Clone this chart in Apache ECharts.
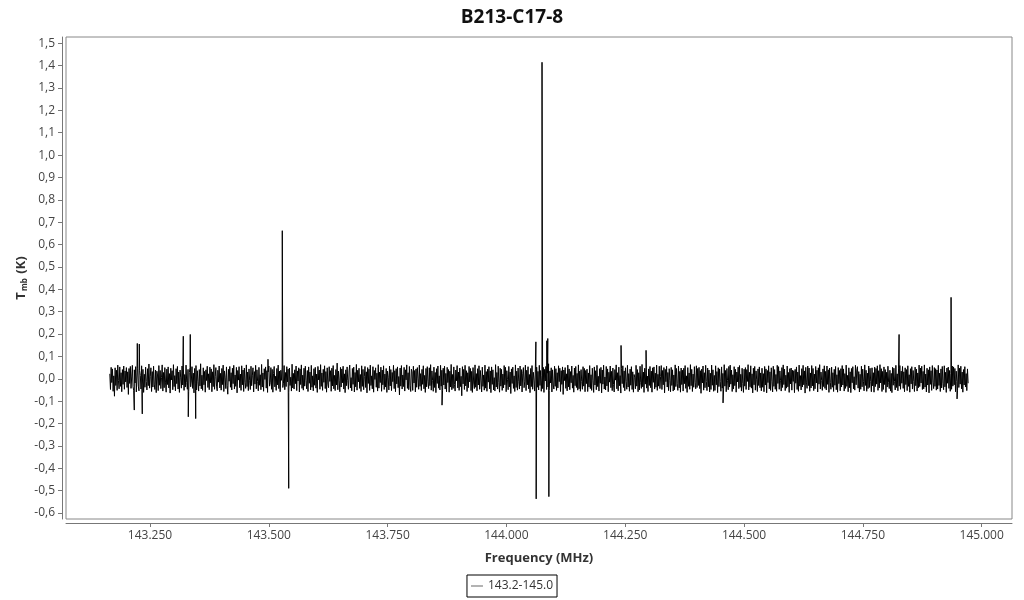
<!DOCTYPE html>
<html><head><meta charset="utf-8">
<script src="https://cdn.jsdelivr.net/npm/echarts@6/dist/echarts.min.js"></script>
<style>html,body{margin:0;padding:0;background:#fff}#chart{width:1024px;height:600px}</style>
</head><body><div id="chart"></div>
<script>
const chartTitle = 'B213-C17-8';
const seriesName = '143.2-145.0';
const xAxisName = 'Frequency (MHz)';
const freqStartMHz = 143.1655;
const freqEndMHz = 144.9715;
// baseline channel values in mK
const baselineMilliK = [
22,-48,51,-17,44,-56,13,-78,49,-30,38,-52,61,-9,-45,53,-34,27,-58,41,-25,57,-47,35,
-14,50,-39,31,-70,46,-21,55,-43,8,60,-36,-51,40,-19,54,-59,26,47,-33,-54,37,15,-46,
58,-28,42,-61,20,-38,52,-12,-50,45,-31,66,-42,11,49,-57,32,-37,56,-24,-48,39,-62,34,
17,-53,59,-29,37,-44,6,62,-55,28,-40,50,-15,-60,43,-26,53,-41,23,-64,47,-5,36,-49,
63,-35,14,-54,45,-22,55,-46,30,-61,39,4,-42,57,-28,48,-52,19,-37,61,-16,-47,42,-57,
29,51,-36,-10,54,-43,25,-63,46,-23,59,-50,36,-13,-55,41,-32,67,-45,16,-52,49,-27,33,
-60,40,-8,56,-39,22,-49,52,-18,44,-58,31,-35,63,-47,9,50,-33,-54,38,-15,57,-41,24,
-51,46,-26,61,-57,35,4,-44,53,-30,-69,42,-11,55,-38,27,-50,47,-22,60,-46,17,-34,51,
-63,37,-6,54,-40,21,-52,58,-27,39,-57,48,-17,-43,62,-35,30,-53,44,-9,-48,56,-31,13,
49,-59,32,-24,60,-45,40,-12,-54,51,-29,18,-49,64,-37,26,-56,45,-3,53,-42,36,-61,31,
57,-33,-18,50,-47,42,-60,23,55,-36,11,-52,46,-27,61,-44,34,-58,38,-7,52,-39,-20,59,
-49,28,-35,54,-14,43,-62,48,-30,7,-55,65,-41,24,-46,40,-22,57,-53,35,-10,49,-59,44,
-26,62,-43,16,-51,47,-33,56,-8,-45,37,-57,53,-20,30,-50,60,-38,13,-54,45,-29,51,-42,
21,-61,55,-5,39,-47,63,-34,26,-52,42,-16,58,-44,32,-60,49,-24,-40,54,-12,36,-56,47,
-32,59,-45,15,-53,41,-28,70,-49,34,-7,-58,51,-37,44,-18,56,-46,22,-62,40,-31,53,-9,
-47,35,61,-41,5,-54,46,-25,52,-59,28,-36,64,-51,38,-14,47,-43,19,-57,58,-34,42,-49,
9,55,-39,31,-63,50,-21,43,-52,61,-30,13,-45,54,-60,37,-3,49,-38,25,-55,63,-42,30,
-17,52,-56,39,-27,58,-48,21,-37,46,-61,34,7,-50,57,-32,41,-53,28,-13,60,-44,36,-58,
45,-23,53,-40,10,-72,48,-33,59,-46,17,-35,51,-55,40,-5,62,-43,27,-49,55,-29,-57,43,
31,-52,56,-19,37,-59,44,-38,50,3,-47,61,-34,23,-53,42,-25,58,-45,15,-61,46,-36,54,
-11,-44,49,-31,63,-51,35,-7,-56,52,-39,28,-62,45,-21,57,-42,13,-50,60,-33,38,-54,47,
-28,56,-46,24,-58,51,-17,41,-60,34,-37,64,-49,19,-43,53,-26,-55,39,-9,59,-41,30,-52,
48,-35,11,-76,54,-23,42,-48,60,-32,36,-57,27,-40,55,-14,46,-53,33,-61,50,-19,-44,62,
-38,23,-54,45,-28,58,-47,37,-6,-59,52,-34,17,-51,61,-42,32,-56,43,-15,54,-45,35,-62,
53,-25,40,-50,5,-55,63,-37,28,-46,56,-17,-60,47,-33,42,-52,21,-41,59,-27,51,-58,36,
-4,-49,55,-36,30,-66,44,-21,52,-43,13,-57,62,-39,34,-51,48,-11,-46,57,-32,41,-59,25,
50,-40,-14,61,-53,38,-27,54,-45,19,-62,46,-35,59,-47,29,-6,-55,43,-23,52,-38,33,-50,
60,-30,37,-56,16,-44,51,-61,42,-10,55,-48,25,-37,67,-53,35,-19,49,-59,40,-28,-46,56,
-34,45,-52,27,-41,58,-13,47,-57,36,-25,53,-70,39,-8,50,-43,22,-54,61,-36,44,-49,32,
-18,57,-42,15,-60,48,-31,55,-39,24,-51,62,-45,34,-56,41,-12,-47,54,-33,46,-58,37,-22,
43,-57,26,-37,59,-44,18,-52,47,-9,-61,53,-28,36,-49,60,-35,11,-55,45,-20,51,-63,39,
-24,61,-46,8,-50,55,-32,44,-58,29,-15,57,-40,33,-53,48,-26,-59,41,-6,62,-45,27,-54,
52,-31,14,-64,46,-22,58,-39,35,-54,49,-12,-47,60,-37,23,-56,43,-29,54,-48,31,-60,19,
7,-45,60,-33,41,-58,27,-50,56,-18,-43,64,-36,30,-61,47,-24,52,-42,12,-57,44,-30,55,
-40,34,-60,49,-16,53,-46,25,-38,61,-52,20,-33,56,-44,10,59,-48,37,-27,50,-63,42,-13,
56,-37,28,-53,45,-8,-58,51,-30,40,-55,17,-49,62,-35,46,-21,-52,57,-41,33,-60,48,-26,
38,-55,47,-22,59,-43,13,-61,50,-34,26,-47,63,-31,42,-57,21,-38,54,-16,-45,58,-39,46,
-30,51,-44,36,-65,43,-19,57,-51,27,-40,60,-12,-53,48,-36,39,-59,25,-48,61,-29,40,-56,
15,-52,58,-27,32,-62,49,-35,44,-13,-56,53,-42,24,-50,63,-33,37,-58,46,-8,-49,55,-37,
61,-24,39,-57,18,-46,54,-31,42,-60,30,-14,52,-44,59,-38,20,-55,47,-21,-61,43,-33,50,
-48,41,-12,63,-50,29,-36,58,-42,22,-63,47,-27,55,-51,35,-5,-57,44,-30,53,-40,26,-54,
47,-38,23,-58,55,-28,44,-63,37,-17,58,-45,31,-52,49,-11,-59,56,-34,41,-47,19,-56,60,
-21,54,-47,35,-9,-55,50,-39,62,-26,43,-53,16,-42,57,-36,28,-61,45,-23,48,-51,38,-12,
36,-62,42,-20,53,-48,30,-56,61,-33,14,-50,45,-37,60,-27,35,-64,51,-15,-43,57,-31,48,
-56,26,-41,59,-32,46,-53,21,-45,55,-19,38,-59,49,-24,63,-46,30,-8,-52,44,-35,58,-43,
33,-50,57,-25,40,-61,48,-16,-47,52,-38,27,-57,42,-29,55,-49,18,-60,50,-22,37,-54,45,
-37,59,-28,44,-55,23,-43,61,-34,15,-58,49,-40,31,-62,46,-18,54,-45,9,-51,60,-27,39,
54,-42,32,-59,20,-47,56,-36,43,-11,-54,62,-30,38,-56,25,-44,57,-39,47,-13,-58,49,-32,
27,-60,52,-35,46,-24,58,-52,36,-41,63,-19,45,-57,33,-48,53,-26,41,-61,29,-37,56,-16,
-44,38,-55,24,-62,51,-29,47,-13,-50,60,-39,22,-54,44,-33,59,-47,34,-20,55,-43,31,-58,
49,-26,41,-53,58,-34,18,-60,45,-23,54,-46,37,-12,-57,52,-31,43,-55,26,-40,61,-35,48,
-19,56,-48,33,-45,62,-37,21,-59,47,-28,40,-63,53,-25,36,-52,59,-16,-44,50,-34,45,-51,
39,-46,60,-30,25,-57,44,-41,55,-22,-49,58,-36,29,-61,48,-20,52,-43,37,-56,24,-47,57,
-33,53,-27,46,-58,34,-12,-51,62,-39,47,-24,56,-45,30,-60,41,-28,54,-37,23,-53,44,-20
];
// line features: [frequency MHz, T_mb K]
const lineFeatures = [
[143.2170,-0.140],[143.2233,0.158],[143.2275,0.155],[143.2338,-0.157],
[143.3201,0.190],[143.3306,-0.170],[143.3348,0.198],[143.3462,-0.178],
[143.4983,0.087],[143.5284,0.662],[143.5419,-0.490],[143.8645,-0.118],
[144.0620,0.165],[144.0626,-0.537],[144.0749,1.415],[144.0850,0.170],
[144.0870,0.180],[144.0893,-0.527],[144.2412,0.149],[144.2938,0.127],
[144.4558,-0.108],[144.8262,0.198],[144.9356,0.364],[144.9482,-0.090]
];
const xTickValues = [143.25,143.5,143.75,144.0,144.25,144.5,144.75,145.0];
const yTickValues = [-0.6,-0.5,-0.4,-0.3,-0.2,-0.1,0,0.1,0.2,0.3,0.4,0.5,0.6,0.7,0.8,0.9,1.0,1.1,1.2,1.3,1.4,1.5];

const n = baselineMilliK.length;
const step = (freqEndMHz - freqStartMHz) / (n - 1);
const points = baselineMilliK.map((v, i) => [freqStartMHz + i * step, v / 1000]);
lineFeatures.forEach(p => points.push(p));
points.sort((a, b) => a[0] - b[0]);

const font = "'Open Sans', 'Noto Sans', sans-serif";
const chart = echarts.init(document.getElementById('chart'), null, {renderer: 'canvas'});
chart.setOption({
  animation: false,
  backgroundColor: '#fff',
  textStyle: {fontFamily: font},
  title: {
    text: chartTitle, left: 'center', top: 3,
    textStyle: {fontSize: 19, fontWeight: 'bold', color: '#111', fontFamily: font}
  },
  legend: {
    top: 575, left: 'center',
    data: [{name: seriesName, icon: 'rect'}],
    itemWidth: 12, itemHeight: 1, itemGap: 4,
    borderColor: '#000', borderWidth: 1, padding: [5, 4],
    textStyle: {fontSize: 12, color: '#333', fontFamily: font},
    itemStyle: {color: '#666'}
  },
  grid: {
    left: 66, right: 12, top: 37, bottom: 81,
    show: true, borderColor: '#888', borderWidth: 1
  },
  xAxis: {
    type: 'value', min: 143.0733, max: 145.0638, offset: 4,
    name: xAxisName, nameLocation: 'middle', nameGap: 29, nameMoveOverlap: false,
    nameTextStyle: {fontSize: 13, fontWeight: 'bold', color: '#333', fontFamily: font},
    axisLine: {show: true, onZero: false, lineStyle: {color: '#777', width: 1}},
    axisTick: {show: true, length: 4, lineStyle: {color: '#777'}, customValues: xTickValues},
    axisLabel: {color: '#444', fontSize: 12, margin: 7, fontFamily: font,
      customValues: xTickValues, formatter: v => v.toFixed(3)},
    splitLine: {show: false}
  },
  yAxis: {
    type: 'value', min: -0.627, max: 1.528, offset: 4,
    name: '{a|T}{b|mb}{a| (K)}', nameLocation: 'middle', nameGap: 32, nameMoveOverlap: false,
    nameTextStyle: {
      rich: {
        a: {fontSize: 13, fontWeight: 'bold', color: '#333', fontFamily: font, lineHeight: 18},
        b: {fontSize: 8, fontWeight: 'bold', color: '#333', fontFamily: font, padding: [8, 1, 0, 1]}
      }
    },
    axisLine: {show: true, onZero: false, lineStyle: {color: '#777', width: 1}},
    axisTick: {show: true, length: 4, lineStyle: {color: '#777'}, customValues: yTickValues},
    axisLabel: {color: '#444', fontSize: 12, margin: 7, fontFamily: font,
      customValues: yTickValues, formatter: v => v.toFixed(1).replace('.', ',')},
    splitLine: {show: false}
  },
  series: [{
    name: seriesName, type: 'line', data: points,
    showSymbol: false, symbol: 'none', silent: true,
    lineStyle: {color: '#000', width: 1},
    itemStyle: {color: '#000'}
  }]
});
</script>
</body></html>
